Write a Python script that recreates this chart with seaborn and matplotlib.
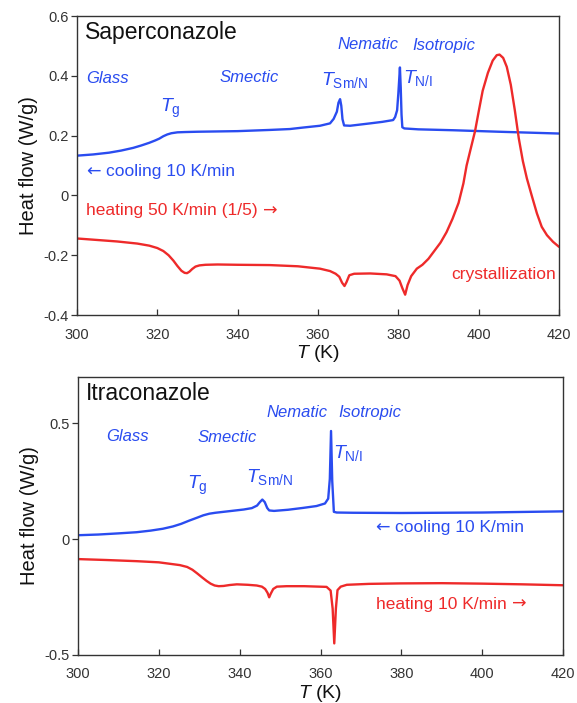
import matplotlib
matplotlib.use("Agg")
import matplotlib.pyplot as plt
import seaborn as sns
import pandas as pd

# ---- Saperconazole DSC traces ----
sap_cool_T = [300, 304, 308, 311, 314, 316, 318, 319.5, 320.5, 321.5, 322.5, 323.5, 325,
              327, 330, 340, 348, 353, 356.3, 360.5, 363, 363.9, 364.7, 365.1, 365.5, 365.8,
              366.1, 366.5, 368, 373, 376, 378.7, 379.2, 379.7, 380.0, 380.4, 380.6, 380.8,
              381.0, 381.5, 385, 393.7, 405, 420]
sap_cool_Q = [0.133, 0.137, 0.143, 0.150, 0.159, 0.167, 0.176, 0.184, 0.190, 0.198, 0.204,
              0.208, 0.211, 0.212, 0.213, 0.215, 0.219, 0.222, 0.227, 0.233, 0.241, 0.256,
              0.280, 0.310, 0.322, 0.300, 0.255, 0.234, 0.233, 0.241, 0.246, 0.252, 0.262,
              0.285, 0.340, 0.428, 0.360, 0.270, 0.228, 0.224, 0.221, 0.218, 0.213, 0.207]

sap_heat_T = [300, 305, 310, 315, 318, 320, 321.5, 322.8, 324, 325, 326, 326.8, 327.4, 328,
              328.7, 329.5, 330.5, 332, 335, 340, 348, 355, 360.5, 363, 364.4, 365.3, 366.0,
              366.6, 367.1, 367.8, 369, 373, 377.1, 379.3, 380.3, 381.0, 381.7, 382.3, 383.2,
              384.6, 386, 387.5, 389, 390.5, 392, 393.5, 395, 396.2, 397.0, 398, 399.1, 400,
              401.0, 402.3, 403.5, 404.5, 405.2, 406.1, 407.0, 408.0, 409.0, 410.0, 411.0,
              412.0, 413.2, 414.5, 415.7, 417, 418.5, 420]
sap_heat_Q = [-0.144, -0.149, -0.154, -0.161, -0.168, -0.176, -0.186, -0.200, -0.218, -0.236,
              -0.252, -0.259, -0.260, -0.255, -0.246, -0.238, -0.234, -0.232, -0.231, -0.232,
              -0.233, -0.237, -0.245, -0.253, -0.262, -0.272, -0.292, -0.303, -0.290, -0.267,
              -0.262, -0.261, -0.264, -0.270, -0.285, -0.310, -0.332, -0.300, -0.270, -0.245,
              -0.232, -0.212, -0.185, -0.158, -0.123, -0.078, -0.025, 0.040, 0.100, 0.155,
              0.215, 0.280, 0.350, 0.410, 0.451, 0.469, 0.471, 0.460, 0.430, 0.370, 0.285,
              0.190, 0.115, 0.057, 0.000, -0.060, -0.105, -0.133, -0.155, -0.172]

# ---- Itraconazole DSC traces ----
itr_cool_T = [300, 305, 310, 314.5, 318, 321, 323.5, 325.5, 327.5, 329.5, 331, 332.5, 334,
              336, 338.5, 341, 343, 344.3, 345.0, 345.6, 346.2, 346.8, 347.3, 348.5, 352,
              355.7, 359, 361.1, 361.9, 362.3, 362.6, 362.9, 363.3, 364, 368, 380, 400, 420]
itr_cool_Q = [0.017, 0.020, 0.025, 0.030, 0.037, 0.045, 0.055, 0.066, 0.080, 0.093, 0.103,
              0.110, 0.114, 0.118, 0.123, 0.128, 0.134, 0.145, 0.160, 0.171, 0.160, 0.135,
              0.124, 0.122, 0.127, 0.135, 0.143, 0.154, 0.175, 0.260, 0.467, 0.250, 0.118,
              0.115, 0.114, 0.113, 0.115, 0.120]

itr_heat_T = [300, 307, 314.5, 320, 325.2, 327, 328.3, 329.5, 330.7, 331.8, 332.8, 333.8,
              334.8, 336, 337.5, 339.3, 342, 344.2, 345.5, 346.3, 346.9, 347.3, 347.7, 348.3,
              349.2, 351.6, 356, 361.5, 362.5, 363.0, 363.4, 363.8, 364.2, 365, 366.5, 372,
              379.7, 390, 400, 410, 420]
itr_heat_Q = [-0.086, -0.090, -0.095, -0.100, -0.112, -0.120, -0.132, -0.148, -0.165, -0.180,
              -0.192, -0.200, -0.203, -0.202, -0.198, -0.195, -0.197, -0.200, -0.205, -0.215,
              -0.232, -0.251, -0.235, -0.215, -0.205, -0.203, -0.203, -0.206, -0.222, -0.300,
              -0.450, -0.300, -0.220, -0.205, -0.197, -0.193, -0.191, -0.190, -0.192, -0.195,
              -0.199]

x_ticks = [300, 320, 340, 360, 380, 400, 420]
sap_y_ticks = [-0.4, -0.2, 0, 0.2, 0.4, 0.6]
sap_y_labels = ["-0.4", "-0.2", "0", "0.2", "0.4", "0.6"]
itr_y_ticks = [-0.5, 0, 0.5]
itr_y_labels = ["-0.5", "0", "0.5"]

BLUE = "#2a4cf0"
RED = "#ee2a2a"
DPI = 100

sns.set_theme(style="ticks")
plt.rcParams["font.family"] = ["Liberation Sans", "DejaVu Sans"]
plt.rcParams["mathtext.fontset"] = "custom"
plt.rcParams["mathtext.rm"] = "Liberation Sans"
plt.rcParams["mathtext.it"] = "Liberation Sans:italic"

fig = plt.figure(figsize=(5.77, 7.03), dpi=DPI)
ax1 = fig.add_axes([0.1334, 0.5519, 0.8354, 0.4253])
ax2 = fig.add_axes([0.1352, 0.0683, 0.8406, 0.3954])
renderer = fig.canvas.get_renderer()


def draw(ax, cT, cQ, hT, hQ):
    cool = pd.DataFrame({"T": cT, "Q": cQ})
    heat = pd.DataFrame({"T": hT, "Q": hQ})
    sns.lineplot(data=cool, x="T", y="Q", ax=ax, color=BLUE, lw=1.7, estimator=None)
    sns.lineplot(data=heat, x="T", y="Q", ax=ax, color=RED, lw=1.7, estimator=None)


def style(ax, yticks, ylabels, ylim):
    ax.set_xlim(300, 420)
    ax.set_ylim(*ylim)
    ax.set_xticks(x_ticks)
    ax.set_xticklabels([str(t) for t in x_ticks])
    ax.set_yticks(yticks)
    ax.set_yticklabels(ylabels)
    ax.tick_params(axis="x", direction="in", length=4, width=0.9, colors="#333333",
                   labelsize=10.5, pad=9)
    ax.tick_params(axis="y", direction="out", length=4, width=0.9, colors="#333333",
                   labelsize=10.5, pad=2)
    for s in ax.spines.values():
        s.set_visible(True)
        s.set_color("#333333")
        s.set_linewidth(1.0)
    ax.set_xlabel(r"$T$ (K)", fontsize=14, labelpad=1, color="#111111")
    ax.set_ylabel("Heat flow (W/g)", fontsize=14.5, labelpad=4, color="#111111")


def seq_text(ax, x, y, pieces, color, fs, ha="left", gap=0.3):
    """Write text pieces one after another; each piece has its own font family."""
    widths = []
    for s, fam in pieces:
        t = ax.text(0, 0, s, fontsize=fs, family=fam)
        widths.append(t.get_window_extent(renderer).width * 72 / DPI)
        t.remove()
    g = gap * fs
    total = sum(widths) + g * (len(pieces) - 1)
    off = 0 if ha == "left" else -total / 2
    for (s, fam), w in zip(pieces, widths):
        ax.annotate(s, xy=(x, y), xytext=(off, 0), textcoords="offset points",
                    fontsize=fs, family=fam, color=color, ha="left", va="center")
        off += w + g


draw(ax1, sap_cool_T, sap_cool_Q, sap_heat_T, sap_heat_Q)
style(ax1, sap_y_ticks, sap_y_labels, (-0.4, 0.6))

draw(ax2, itr_cool_T, itr_cool_Q, itr_heat_T, itr_heat_Q)
style(ax2, itr_y_ticks, itr_y_labels, (-0.5, 0.7))

it = dict(style="italic", color=BLUE, fontsize=12, ha="center", va="center")
tl = dict(color=BLUE, fontsize=14, ha="center", va="center")
ARR = ["DejaVu Sans"]
TXT = ["Liberation Sans"]

# Saperconazole annotations
ax1.text(302, 0.546, "Saperconazole", fontsize=16.5, ha="left", va="center", color="#111111")
ax1.text(307.5, 0.392, "Glass", **it)
ax1.text(343, 0.394, "Smectic", **it)
ax1.text(372.4, 0.506, "Nematic", **it)
ax1.text(391.4, 0.503, "Isotropic", **it)
ax1.text(323.2, 0.292, r"$T_{\mathrm{g}}$", **tl)
ax1.text(366.5, 0.387, r"$T_{\mathrm{Sm/N}}$", **tl)
ax1.text(384.8, 0.392, r"$T_{\mathrm{N/I}}$", **tl)
seq_text(ax1, 302.3, 0.079, [("\u2190", ARR), ("cooling 10 K/min", TXT)], BLUE, 12.5)
seq_text(ax1, 302.2, -0.050, [("heating 50 K/min (1/5)", TXT), ("\u2192", ARR)], RED, 12.5)
ax1.text(419.3, -0.264, "crystallization", color=RED, fontsize=12.5, ha="right", va="center")

# Itraconazole annotations
ax2.text(302, 0.627, "Itraconazole", fontsize=16.5, ha="left", va="center", color="#111111")
ax2.text(312.3, 0.444, "Glass", **it)
ax2.text(336.8, 0.438, "Smectic", **it)
ax2.text(354.1, 0.546, "Nematic", **it)
ax2.text(372.3, 0.546, "Isotropic", **it)
ax2.text(329.5, 0.230, r"$T_{\mathrm{g}}$", **tl)
ax2.text(347.3, 0.270, r"$T_{\mathrm{Sm/N}}$", **tl)
ax2.text(366.8, 0.372, r"$T_{\mathrm{N/I}}$", **tl)
seq_text(ax2, 392.0, 0.050, [("\u2190", ARR), ("cooling 10 K/min", TXT)], BLUE, 12.5,
         ha="center")
seq_text(ax2, 392.3, -0.280, [("heating 10 K/min", TXT), ("\u2192", ARR)], RED, 12.5,
         ha="center")

fig.savefig("out.png", dpi=DPI)
